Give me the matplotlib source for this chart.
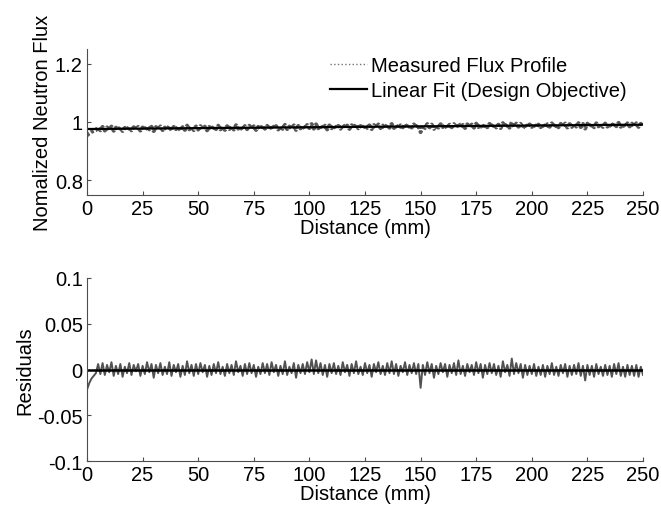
import matplotlib
matplotlib.use('Agg')
import matplotlib.pyplot as plt
import numpy as np

plt.rcParams['font.family'] = ['Liberation Sans', 'DejaVu Sans']

# Linear fit (design objective)
fit_intercept = 0.976
fit_slope = 0.00006  # per mm

# Residuals (x 1e-3), one sample per mm from 0 to 250 mm
residuals_1e3 = [
    -22, -15, -10, -7, -4, 6, -5, 7, -6, 5, -3, 8, -7, 4, -5, 6, -8, 3, -4, 7, -6, 5, -2, 6, -7,
    4, -5, 8, -3, 6, -9, 5, -4, 7, -6, 3, -5, 8, -7, 5, -3, 6, -8, 4, -6, 9, -4, 5, -7, 6,
    -5, 7, -3, 5, -8, 4, -6, 6, -4, 8, -5, 3, -7, 6, -4, 5, -6, 9, -3, 4, -7, 6, -5, 7, -4,
    5, -8, 3, -5, 7, -4, 6, -6, 8, -3, 5, -7, 4, -5, 9, -6, 3, -4, 7, -9, 5, -4, 6, -5, 8,
    -3, 11, -5, 10, -4, 7, -6, 5, -8, 6, -4, 7, -5, 4, -6, 8, -3, 5, -7, 6, -4, 9, -5, 3, -6,
    7, -4, 5, -8, 6, -3, 8, -5, 4, -6, 7, -4, 9, -5, 6, -7, 4, -3, 8, -6, 5, -4, 7, -5, 6,
    -20, 5, -6, 8, -4, 6, -9, 4, -5, 7, -3, 6, -8, 5, -4, 7, -6, 10, -5, 4, -7, 6, -3, 5, -6,
    8, -4, 6, -9, 5, -5, 7, -4, 6, -6, 4, -8, 9, -3, 5, -7, 12, -5, 7, -4, 6, -9, 5, -6, 4,
    -5, 6, -7, 3, -6, 5, -8, 4, -5, 7, -6, 3, -7, 5, -4, 6, -8, 4, -6, 5, -5, 7, -7, 4, -12,
    5, -6, 4, -8, 6, -5, 3, -7, 5, -6, 4, -8, 6, -5, 7, -7, 3, -8, 5, -6, 4, -7, 5, -8, 3, -6,
]

distance = np.arange(len(residuals_1e3))  # mm
residuals = np.array(residuals_1e3) / 1000.0
fit = fit_intercept + fit_slope * distance
measured = fit + residuals

x_ticks = list(range(0, 251, 25))
flux_ticks = [0.8, 1, 1.2]
resid_ticks = [-0.1, -0.05, 0, 0.05, 0.1]

FS = 14.5
W, H = 661, 510
fig = plt.figure(figsize=(W / 100, H / 100), dpi=100)


def style_axes(ax):
    for side in ['top', 'right']:
        ax.spines[side].set_visible(False)
    for side in ['left', 'bottom']:
        ax.spines[side].set_color('0.3')
        ax.spines[side].set_linewidth(0.8)
    ax.tick_params(direction='in', length=3, width=0.8, color='0.3',
                   labelsize=FS, pad=3)
    ax.set_xlim(0, 250)
    ax.set_xticks(x_ticks)
    ax.set_xlabel('Distance (mm)', fontsize=FS, labelpad=0)


# Top: measured profile + linear fit
ax1 = fig.add_axes([87 / W, 1 - 196 / H, 556 / W, 146 / H])
ax1.plot(distance, measured, linestyle=(0, (0.8, 0.5)), color='0.35', lw=2.8,
         label='Measured Flux Profile')
ax1.plot(distance, fit, '-', color='black', lw=1.6, label='Linear Fit (Design Objective)')
style_axes(ax1)
ax1.set_ylim(0.75, 1.25)
ax1.set_yticks(flux_ticks)
ax1.set_yticklabels([f'{t:g}' for t in flux_ticks])
ax1.set_ylabel('Nomalized Neutron Flux', fontsize=FS, labelpad=2)
leg = ax1.legend(loc='upper left', bbox_to_anchor=(330 / W, 1 - 57 / H),
                 bbox_transform=fig.transFigure, frameon=False, fontsize=FS,
                 handlelength=1.85, handletextpad=0.2, labelspacing=0.3,
                 borderpad=0, borderaxespad=0)
leg.get_lines()[0].set_linewidth(1.0)
leg.get_lines()[0].set_linestyle(':')
leg.get_lines()[0].set_color('0.45')

# Bottom: residuals
ax2 = fig.add_axes([87 / W, 1 - 462 / H, 556 / W, 183 / H])
ax2.plot(distance, residuals, '-', color='0.32', lw=1.4)
ax2.axhline(0, color='black', lw=1.8)
style_axes(ax2)
ax2.set_ylim(-0.1, 0.1)
ax2.set_yticks(resid_ticks)
ax2.set_yticklabels([f'{t:g}' for t in resid_ticks])
ax2.set_ylabel('Residuals', fontsize=FS, labelpad=2)

fig.savefig('out.png', dpi=100)
